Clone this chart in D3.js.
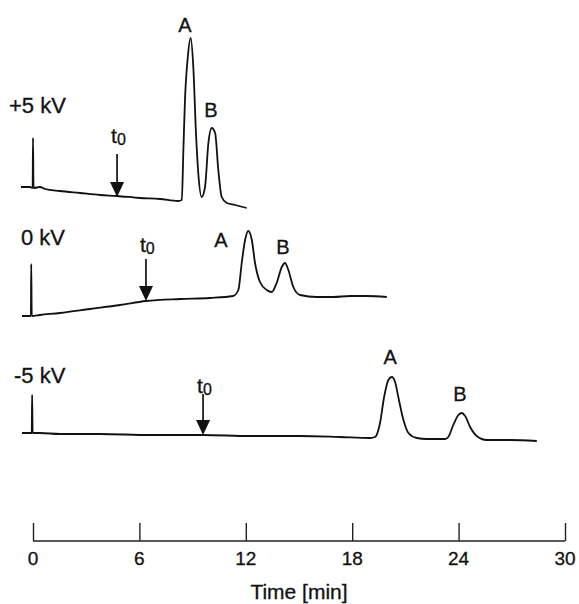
<!DOCTYPE html>
<html>
<head>
<meta charset="utf-8">
<script src="https://cdn.jsdelivr.net/npm/d3@7"></script>
<style>
  html, body { margin: 0; padding: 0; background: #fff; }
  svg { display: block; }
  text { font-family: "Liberation Sans", Arial, Helvetica, sans-serif; fill: #111; stroke: #111; stroke-width: 0.3; }
</style>
</head>
<body>
<svg id="chart" width="579" height="604"></svg>
<script>
// ---------------- DATA ----------------
const timeTicks = [0, 6, 12, 18, 24, 30];
const axisTitle = "Time [min]";
const voltageLabels = ["+5 kV", "0 kV", "-5 kV"];
const peakNames = ["A", "B"];

// t0 markers (min) and the detector signal at that time (a.u.)
const t0Times = [4.74, 6.37, 9.59];
const t0Signal = [-10, 15, -2];

// +5 kV trace
const plus5Time = [-0.68, -0.17, -0.02, 0.0, 0.03, 0.39, 0.68, 1.52, 2.65, 3.78, 4.74, 6.03, 7.16, 8.18,
  8.39, 8.48, 8.57, 8.73, 8.89, 9.04, 9.19, 9.32, 9.51, 9.70, 9.89, 10.08, 10.27, 10.45, 10.64, 10.93, 11.39, 12.05];
const plus5Signal = [0, 0, -1, 49, -1, 0, -2, -4, -6, -8, -9, -11, -12, -14,
  -13, 37, 87, 130, 149, 120, 54, 14, -10, 0, 44, 59, 54, 17, -10, -16, -18, -21];

// 0 kV trace
const zeroTime = [-0.62, -0.15, -0.12, -0.1, -0.07, 0.39, 1.52, 3.21, 4.91, 6.37, 8.29, 9.98, 11.28,
  11.58, 11.77, 11.96, 12.14, 12.34, 12.52, 12.80, 13.18, 13.46, 13.74, 14.03, 14.21, 14.40, 14.68, 15.06,
  16.0, 16.94, 17.88, 18.82, 19.95];
const zeroSignal = [0, 0, 0, 52, 0, 1, 3, 7, 11, 15, 17, 18, 20,
  26, 53, 76, 85, 76, 53, 34, 26, 24, 33, 49, 53, 46, 29, 21,
  19, 19, 20, 20, 19];

// -5 kV trace
const minus5Time = [-0.62, -0.1, -0.07, -0.05, -0.02, 0.39, 1.52, 3.78, 6.6, 9.59, 12.24, 15.06, 17.3, 19.0,
  19.29, 19.57, 19.80, 20.04, 20.23, 20.42, 20.60, 20.89, 21.17, 21.64, 22.21, 23.24,
  23.42, 23.70, 23.99, 24.18, 24.37, 24.65, 25.02, 25.59, 26.9, 28.41];
const minus5Signal = [0, 0, 0, 38, 0, 0, -1, -1, -2, -2, -3, -3, -4, -5,
  -4, 10, 36, 53, 56, 51, 36, 13, 0, -5, -6, -6,
  -4, 8, 18, 20, 17, 6, -3, -7, -7, -8];

// ---------------- LAYOUT ----------------
const axisY = 541;
const traceBaseY = [187, 316, 433];
const voltageLabelPos = [{x: 9, y: 105}, {x: 21, y: 237}, {x: 14, y: 375}];
const t0ArrowLen = [43, 42, 41];
const t0LabelGap = [62, 57, 50];
// peak label anchors in (time, signal) space per trace
const peakLabelAnchors = [
  [{t: 8.57, s: 162}, {t: 10.04, s: 77}],
  [{t: 10.6, s: 76}, {t: 14.1, s: 69}],
  [{t: 20.14, s: 76}, {t: 24.08, s: 39}]
];

const traces = [
  {time: plus5Time, signal: plus5Signal},
  {time: zeroTime, signal: zeroSignal},
  {time: minus5Time, signal: minus5Signal}
];

const svg = d3.select("#chart");
const x = d3.scaleLinear().domain([0, 30]).range([33, 565]);
const y = d3.scaleLinear().domain([0, 150]).range([0, 150]); // signal units -> px height

// ---------------- AXIS ----------------
const axis = d3.axisTop(x).tickValues(timeTicks).tickSize(18).tickFormat("");
const gAxis = svg.append("g").attr("transform", `translate(0,${axisY})`).call(axis);
gAxis.select(".domain").attr("d", `M${x(0)},0H${x(30)}`).attr("stroke", "#222").attr("stroke-width", 1.4);
gAxis.selectAll(".tick line").attr("stroke", "#222").attr("stroke-width", 1.4);

svg.append("g").selectAll("text").data(timeTicks).join("text")
  .attr("x", d => x(d)).attr("y", axisY + 17)
  .attr("text-anchor", "middle").attr("dominant-baseline", "central")
  .attr("font-size", 19).text(d => d);

svg.append("text").attr("x", (x(0) + x(30)) / 2).attr("y", axisY + 50)
  .attr("text-anchor", "middle").attr("dominant-baseline", "central")
  .attr("font-size", 21).text(axisTitle);

// ---------------- TRACES ----------------
const line = d3.line().curve(d3.curveMonotoneX);

traces.forEach((tr, i) => {
  const base = traceBaseY[i];
  const pts = tr.time.map((t, k) => [x(t), base - y(tr.signal[k])]);
  svg.append("path").attr("d", line(pts))
    .attr("fill", "none").attr("stroke", "#111").attr("stroke-width", 1.8)
    .attr("stroke-linejoin", "round");

  // voltage label
  svg.append("text").attr("x", voltageLabelPos[i].x).attr("y", voltageLabelPos[i].y)
    .attr("dominant-baseline", "central").attr("font-size", 22).text(voltageLabels[i]);

  // peak labels
  peakLabelAnchors[i].forEach((a, j) => {
    svg.append("text").attr("x", x(a.t)).attr("y", base - y(a.s))
      .attr("text-anchor", "middle").attr("dominant-baseline", "central")
      .attr("font-size", 20).text(peakNames[j]);
  });

  // t0 arrow
  const tx = x(t0Times[i]);
  const tipY = base - y(t0Signal[i]);
  const topY = tipY - t0ArrowLen[i];
  const head = 15;
  svg.append("line").attr("x1", tx).attr("x2", tx).attr("y1", topY).attr("y2", tipY - head + 2)
    .attr("stroke", "#111").attr("stroke-width", 1.7);
  svg.append("path")
    .attr("d", `M${tx - 7},${tipY - head}L${tx + 7},${tipY - head}L${tx},${tipY}Z`)
    .attr("fill", "#111");
  const lbl = svg.append("text").attr("x", tx - 6).attr("y", tipY - t0LabelGap[i])
    .attr("dominant-baseline", "central").attr("font-size", 21);
  lbl.append("tspan").text("t");
  lbl.append("tspan").attr("font-size", 16).attr("dy", 4).text("0");
});
</script>
</body>
</html>
